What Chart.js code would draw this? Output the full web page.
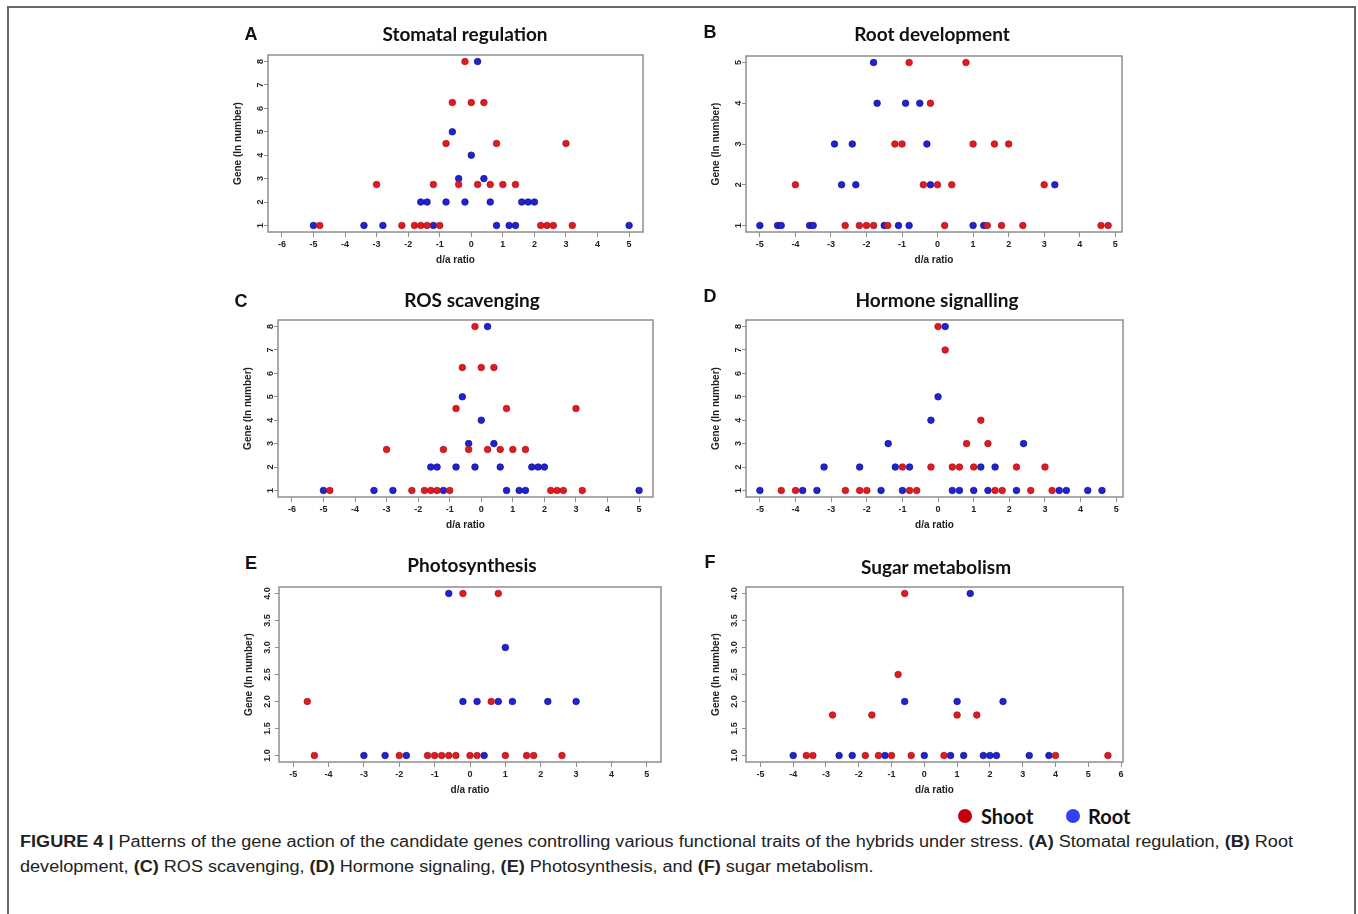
<!DOCTYPE html>
<html>
<head>
<meta charset="utf-8">
<script src="https://cdn.jsdelivr.net/npm/chart.js@4.4.1/dist/chart.umd.min.js"></script>
<style>
  html, body { margin: 0; padding: 0; background: #fff; }
  body { width: 1358px; height: 914px; position: relative; overflow: hidden; }
  .frame { position: absolute; left: 7px; top: 6px; width: 1349px; height: 940px; border: 2px solid #676767; box-sizing: border-box; }
  canvas { position: absolute; }
  .lbl { position: absolute; transform: translate(-50%, -50%); white-space: nowrap; color: #111; }
  .letter { font: bold 18px 'Liberation Sans', Arial, sans-serif; }
  .title { font: bold 19px Lato, sans-serif; }
  .legend { position: absolute; font: bold 20px Lato, sans-serif; color: #111; white-space: nowrap; transform: translateY(-50%); }
  .dot { position: absolute; width: 14px; height: 14px; border-radius: 50%; transform: translate(-50%, -50%); }
  .caption { position: absolute; left: 20px; font: 16px 'Liberation Sans', Arial, sans-serif; color: #222; white-space: nowrap; transform-origin: 0 50%; transform: translateY(-50%); }
</style>
</head>
<body>
<div class="frame"></div>
<div id="root"></div>
<script>
// A - Stomatal regulation
const stomatalShootX = [-0.2, -0.6, 0, 0.4, -0.8, 0.8, 3, -3, -1.2, -0.4, 0.2, 0.6, 1, 1.4, -4.8, -2.2, -1.8, -1.6, -1.4, -1.0, 2.2, 2.4, 2.6, 3.2];
const stomatalShootY = [8, 6.25, 6.25, 6.25, 4.5, 4.5, 4.5, 2.75, 2.75, 2.75, 2.75, 2.75, 2.75, 2.75, 1, 1, 1, 1, 1, 1, 1, 1, 1, 1];
const stomatalRootX = [0.2, -0.6, 0, -0.4, 0.4, -1.6, -1.4, -0.8, -0.2, 0.6, 1.6, 1.8, 2.0, -5, -3.4, -2.8, -1.2, 0.8, 1.2, 1.4, 5];
const stomatalRootY = [8, 5, 4, 3, 3, 2, 2, 2, 2, 2, 2, 2, 2, 1, 1, 1, 1, 1, 1, 1, 1];

// B - Root development
const rootDevShootX = [-0.8, 0.8, -0.2, -1.2, -1.0, 1.0, 1.6, 2.0, -4.0, -0.4, 0, 0.4, 3.0, -2.6, -2.2, -2.0, -1.8, -1.4, 0.2, 1.4, 1.8, 2.4, 4.6, 4.8];
const rootDevShootY = [5, 5, 4, 3, 3, 3, 3, 3, 2, 2, 2, 2, 2, 1, 1, 1, 1, 1, 1, 1, 1, 1, 1, 1];
const rootDevRootX = [-1.8, -1.7, -0.9, -0.5, -2.9, -2.4, -0.3, -2.7, -2.3, -0.2, 3.3, -5, -4.5, -4.4, -3.6, -3.5, -1.5, -1.1, -0.8, 1.0, 1.3];
const rootDevRootY = [5, 4, 4, 4, 3, 3, 3, 2, 2, 2, 2, 1, 1, 1, 1, 1, 1, 1, 1, 1, 1];

// C - ROS scavenging
const rosShootX = [-0.2, -0.6, 0, 0.4, -0.8, 0.8, 3, -3, -1.2, -0.4, 0.2, 0.6, 1, 1.4, -4.8, -2.2, -1.8, -1.6, -1.4, -1.0, 2.2, 2.4, 2.6, 3.2];
const rosShootY = [8, 6.25, 6.25, 6.25, 4.5, 4.5, 4.5, 2.75, 2.75, 2.75, 2.75, 2.75, 2.75, 2.75, 1, 1, 1, 1, 1, 1, 1, 1, 1, 1];
const rosRootX = [0.2, -0.6, 0, -0.4, 0.4, -1.6, -1.4, -0.8, -0.2, 0.6, 1.6, 1.8, 2.0, -5, -3.4, -2.8, -1.2, 0.8, 1.2, 1.4, 5];
const rosRootY = [8, 5, 4, 3, 3, 2, 2, 2, 2, 2, 2, 2, 2, 1, 1, 1, 1, 1, 1, 1, 1];

// D - Hormone signalling
const hormoneShootX = [0, 0.2, 1.2, 0.8, 1.4, -1.0, -0.2, 0.4, 0.6, 1.0, 2.2, 3.0, -4.4, -4.0, -2.6, -2.2, -2.0, -0.8, -0.6, 1.6, 1.8, 2.6, 3.2];
const hormoneShootY = [8, 7, 4, 3, 3, 2, 2, 2, 2, 2, 2, 2, 1, 1, 1, 1, 1, 1, 1, 1, 1, 1, 1];
const hormoneRootX = [0.2, 0, -0.2, -1.4, 2.4, -3.2, -2.2, -1.2, -0.8, 1.2, 1.6, -5, -3.8, -3.4, -1.6, -1.0, 0.4, 0.6, 1.0, 1.4, 2.2, 3.4, 3.6, 4.2, 4.6];
const hormoneRootY = [8, 5, 4, 3, 3, 2, 2, 2, 2, 2, 2, 1, 1, 1, 1, 1, 1, 1, 1, 1, 1, 1, 1, 1, 1];

// E - Photosynthesis
const photoShootX = [-0.2, 0.8, -4.6, 0.6, -4.4, -2.0, -1.2, -1.0, -0.8, -0.6, -0.4, 0, 0.2, 1.0, 1.6, 1.8, 2.6];
const photoShootY = [4, 4, 2, 2, 1, 1, 1, 1, 1, 1, 1, 1, 1, 1, 1, 1, 1];
const photoRootX = [-0.6, 1.0, -0.2, 0.2, 0.8, 1.2, 2.2, 3.0, -3.0, -2.4, -1.8, 0.4];
const photoRootY = [4, 3, 2, 2, 2, 2, 2, 2, 1, 1, 1, 1];

// F - Sugar metabolism
const sugarShootX = [-0.6, -0.8, -2.8, -1.6, 1.0, 1.6, -3.6, -3.4, -1.8, -1.4, -1.0, -0.4, 0.6, 4.0, 5.6];
const sugarShootY = [4, 2.5, 1.75, 1.75, 1.75, 1.75, 1, 1, 1, 1, 1, 1, 1, 1, 1];
const sugarRootX = [1.4, -0.6, 1.0, 2.4, -4.0, -2.6, -2.2, -1.2, 0, 0.8, 1.2, 1.8, 2.0, 2.2, 3.2, 3.8];
const sugarRootY = [4, 2, 2, 2, 1, 1, 1, 1, 1, 1, 1, 1, 1, 1, 1, 1];

// tick labels
const xTicksWide = [-6, -5, -4, -3, -2, -1, 0, 1, 2, 3, 4, 5];
const xTicksMid = [-5, -4, -3, -2, -1, 0, 1, 2, 3, 4, 5];
const xTicksSugar = [-5, -4, -3, -2, -1, 0, 1, 2, 3, 4, 5, 6];
const yTicksEight = [1, 2, 3, 4, 5, 6, 7, 8];
const yTicksFive = [1, 2, 3, 4, 5];
const yTicksHalf = [1.0, 1.5, 2.0, 2.5, 3.0, 3.5, 4.0];

const panelTitles = ['Stomatal regulation', 'Root development', 'ROS scavenging', 'Hormone signalling', 'Photosynthesis', 'Sugar metabolism'];
const panelLetters = ['A', 'B', 'C', 'D', 'E', 'F'];
const seriesNames = ['Shoot', 'Root'];

const SHOOT = '#e11a22';
const ROOT = '#1f22d8';
const AXIS = '#8f8f8f';
const TEXT = '#222';
const FONT = "'Liberation Sans', Arial, sans-serif";

// plot boxes: left, top, right, bottom
const panels = [
  { box: [268, 55, 643, 232], x: [-6.44, 5.44], y: [0.72, 8.28], xt: xTicksWide, yt: yTicksEight, dec: 0,
    shoot: [stomatalShootX, stomatalShootY], root: [stomatalRootX, stomatalRootY], title: [465, 33], letter: [251, 34] },
  { box: [746, 56, 1122, 232], x: [-5.39, 5.19], y: [0.84, 5.16], xt: xTicksMid, yt: yTicksFive, dec: 0,
    shoot: [rootDevShootX, rootDevShootY], root: [rootDevRootX, rootDevRootY], title: [932, 33], letter: [710, 32] },
  { box: [278, 320, 653, 497], x: [-6.44, 5.44], y: [0.72, 8.28], xt: xTicksWide, yt: yTicksEight, dec: 0,
    shoot: [rosShootX, rosShootY], root: [rosRootX, rosRootY], title: [472, 299], letter: [241, 301] },
  { box: [746, 320, 1123, 497], x: [-5.39, 5.19], y: [0.72, 8.28], xt: xTicksMid, yt: yTicksEight, dec: 0,
    shoot: [hormoneShootX, hormoneShootY], root: [hormoneRootX, hormoneRootY], title: [937, 299], letter: [710, 296] },
  { box: [279, 587, 661, 762], x: [-5.4, 5.4], y: [0.88, 4.12], xt: xTicksMid, yt: yTicksHalf, dec: 1,
    shoot: [photoShootX, photoShootY], root: [photoRootX, photoRootY], title: [472, 564], letter: [251, 563] },
  { box: [746, 587, 1123, 762], x: [-5.44, 6.06], y: [0.88, 4.12], xt: xTicksSugar, yt: yTicksHalf, dec: 1,
    shoot: [sugarShootX, sugarShootY], root: [sugarRootX, sugarRootY], title: [936, 566], letter: [710, 562] }
];

const PAD_L = 40, PAD_T = 12, PAD_R = 10, PAD_B = 34;

// draws the grey frame round the plot region
const plotBox = {
  id: 'plotBox',
  beforeDatasetsDraw(chart) {
    const { ctx, chartArea: a } = chart;
    ctx.save();
    ctx.strokeStyle = AXIS;
    ctx.lineWidth = 1.5;
    ctx.strokeRect(a.left, a.top, a.right - a.left, a.bottom - a.top);
    ctx.restore();
  }
};

const host = document.getElementById('root');

function addLabel(cls, text, pos) {
  const d = document.createElement('div');
  d.className = 'lbl ' + cls;
  d.textContent = text;
  d.style.left = pos[0] + 'px';
  d.style.top = pos[1] + 'px';
  host.appendChild(d);
}

function toPoints(xs, ys) {
  return xs.map((x, i) => ({ x: x, y: ys[i] }));
}

panels.forEach((p, i) => {
  const [l, t, r, b] = p.box;
  const canvas = document.createElement('canvas');
  canvas.width = (r - l) + PAD_L + PAD_R;
  canvas.height = (b - t) + PAD_T + PAD_B;
  canvas.style.left = (l - PAD_L) + 'px';
  canvas.style.top = (t - PAD_T) + 'px';
  host.appendChild(canvas);

  addLabel('letter', panelLetters[i], p.letter);
  addLabel('title', panelTitles[i], p.title);

  const tickFont = { family: FONT, size: 9, weight: 'bold' };
  const titleFont = { family: FONT, size: 10, weight: 'bold' };

  new Chart(canvas.getContext('2d'), {
    type: 'scatter',
    data: {
      datasets: [
        { label: seriesNames[0], data: toPoints(p.shoot[0], p.shoot[1]),
          backgroundColor: SHOOT, borderColor: '#a3121a', borderWidth: 0.7, pointRadius: 3.3 },
        { label: seriesNames[1], data: toPoints(p.root[0], p.root[1]),
          backgroundColor: ROOT, borderColor: '#10127a', borderWidth: 0.7, pointRadius: 3.3 }
      ]
    },
    options: {
      responsive: false,
      animation: false,
      layout: { padding: { left: 0, top: PAD_T, right: PAD_R, bottom: 0 } },
      plugins: { legend: { display: false }, tooltip: { enabled: false } },
      scales: {
        x: {
          type: 'linear', min: p.x[0], max: p.x[1],
          afterBuildTicks: s => { s.ticks = p.xt.map(v => ({ value: v })); },
          afterFit: s => { s.height = PAD_B; },
          border: { display: false },
          grid: { drawOnChartArea: false, drawTicks: true, tickLength: 5, color: AXIS },
          ticks: { autoSkip: false, minRotation: 0, maxRotation: 0, padding: 2, color: TEXT, font: tickFont },
          title: { display: true, text: 'd/a ratio', color: TEXT, font: titleFont, padding: { top: 0, bottom: 0 } }
        },
        y: {
          type: 'linear', min: p.y[0], max: p.y[1],
          afterBuildTicks: s => { s.ticks = p.yt.map(v => ({ value: v })); },
          afterFit: s => { s.width = PAD_L; },
          border: { display: false },
          grid: { drawOnChartArea: false, drawTicks: true, tickLength: 4, color: AXIS },
          ticks: { autoSkip: false, minRotation: 90, maxRotation: 90, crossAlign: 'center', padding: 1,
                   color: TEXT, font: tickFont, callback: v => Number(v).toFixed(p.dec) },
          title: { display: true, text: 'Gene (In number)', color: TEXT, font: titleFont, padding: { top: 4, bottom: 4 } }
        }
      }
    },
    plugins: [plotBox]
  });
});

// legend under panel F
function addLegendItem(name, color, dotX, textX) {
  const dot = document.createElement('div');
  dot.className = 'dot';
  dot.style.left = dotX + 'px';
  dot.style.top = '816px';
  dot.style.background = color;
  host.appendChild(dot);
  const t = document.createElement('div');
  t.className = 'legend';
  t.textContent = name;
  t.style.left = textX + 'px';
  t.style.top = '816px';
  host.appendChild(t);
}
addLegendItem(seriesNames[0], '#c4000c', 965, 981);
addLegendItem(seriesNames[1], '#3340f2', 1073, 1088);

// caption
const captionLines = [
  '<b>FIGURE 4 |</b> Patterns of the gene action of the candidate genes controlling various functional traits of the hybrids under stress. <b>(A)</b> Stomatal regulation, <b>(B)</b> Root',
  'development, <b>(C)</b> ROS scavenging, <b>(D)</b> Hormone signaling, <b>(E)</b> Photosynthesis, and <b>(F)</b> sugar metabolism.'
];
const captionY = [842, 867];
const lineEls = captionLines.map((html, i) => {
  const c = document.createElement('div');
  c.className = 'caption';
  c.innerHTML = html;
  c.style.top = captionY[i] + 'px';
  host.appendChild(c);
  return c;
});
// squeeze the caption to the reference line width
const sx = 1273 / lineEls[0].getBoundingClientRect().width;
lineEls.forEach(c => { c.style.transform = 'translateY(-50%) scaleX(' + sx + ')'; });
</script>
</body>
</html>
